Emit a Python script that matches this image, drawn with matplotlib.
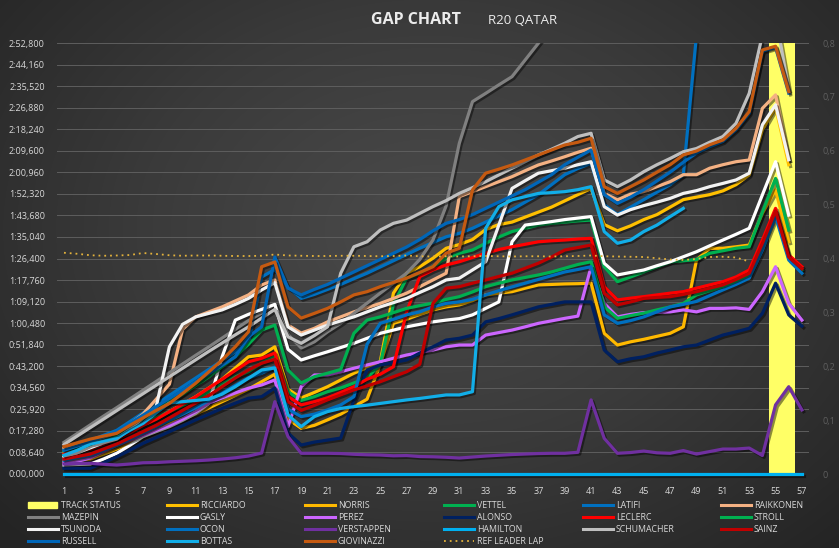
import numpy as np
import matplotlib
matplotlib.use('Agg')
import matplotlib.pyplot as plt
import matplotlib.patheffects as pe
from matplotlib.colors import LinearSegmentedColormap
from matplotlib.ticker import FuncFormatter, FixedLocator
from matplotlib.lines import Line2D
from matplotlib.patches import Rectangle

plt.rcParams['font.family'] = ['Open Sans', 'DejaVu Sans']

nan = np.nan
laps = list(range(1, 58))
track_status = [0] * 54 + [0.8, 0.8, 0]

# gap to leader in seconds, one value per lap
ricciardo = [8.5, 9.5, 10.5, 12.5, 14.5, 17.0, 19.5, 22.0, 25.0, 28.0, 31.0, 34.5, 38.0, 42.5, 47.0, 47.7, 51.0, 34.0, 30.5, 32.7,
             35.0, 37.7, 40.4, 42.7, 45.0, 72.5, 80.5, 83.1, 86.5, 90.5, 92.0, 94.0, 98.0, 100.0, 101.0, 103.0, 105.0, 107.0, 109.5, 112.0,
             114.5, 100.0, 97.5, 99.5, 102.0, 104.0, 107.0, 110.0, 111.0, 112.0, 113.5, 116.0, 119.9, 138.0, 147.0, 124.0, nan]
norris = [5.0, 5.5, 6.0, 8.0, 10.0, 12.5, 15.0, 17.5, 20.0, 22.0, 24.0, 26.5, 29.0, 31.5, 34.0, 37.0, 40.0, 22.0, 18.3, 19.5,
          21.7, 24.0, 27.0, 30.0, 44.0, 60.4, 62.0, 64.0, 65.8, 67.0, 67.8, 69.5, 71.8, 72.5, 73.1, 74.5, 75.8, 76.0, 76.2, 76.3,
          76.5, 56.4, 51.7, 53.0, 54.0, 55.2, 56.4, 59.0, 85.8, 90.5, 90.5, 91.1, 91.8, 104.5, 113.9, 93.1, nan]
vettel = [9.0, 10.5, 12.0, 13.5, 15.0, 17.5, 20.0, 22.5, 25.0, 27.5, 30.0, 33.0, 36.0, 39.0, 41.0, 44.5, 47.0, 33.0, 29.5, 31.0,
          33.0, 34.5, 36.5, 38.5, 44.0, 68.0, 78.5, 80.5, 83.1, 86.5, 88.5, 89.8, 92.5, 95.0, 97.2, 98.5, 99.8, 100.5, 101.0, 101.5,
          101.8, 83.1, 77.1, 79.0, 81.0, 83.0, 85.0, 85.5, 86.0, 88.5, 89.5, 90.5, 91.1, 105.0, 118.5, 97.8, nan]
latifi = [10.0, 11.8, 13.5, 15.5, 17.5, 21.0, 24.5, 28.0, 31.5, 35.0, 38.5, 42.0, 45.5, 49.0, 52.5, 79.0, 82.0, 75.0, 70.4, 72.0,
          74.0, 76.0, 78.3, 80.5, 83.0, 85.5, 88.0, 90.5, 92.8, 95.1, 96.5, 98.5, 101.0, 103.5, 106.0, 109.0, 112.0, 116.0, 120.0, 122.5,
          124.6, 108.0, 104.0, 107.0, 110.0, 113.0, 116.0, 119.9, 176.0, nan, nan, nan, nan, nan, nan, nan, nan]
raikkonen = [10.3, 11.5, 13.0, 14.7, 16.3, 20.0, 24.0, 30.0, 36.0, 58.0, 63.0, 65.0, 67.0, 69.4, 71.8, 75.8, 77.8, 59.7, 56.5, 58.4,
             61.0, 63.0, 65.0, 66.7, 68.4, 70.4, 72.5, 75.1, 77.8, 80.5, 111.2, 113.2, 115.2, 117.2, 119.2, 121.6, 123.9, 125.5, 127.2, 129.0,
             130.6, 112.5, 109.9, 112.2, 113.2, 115.2, 117.2, 120.0, 120.0, 122.6, 124.0, 125.2, 125.9, 146.6, 152.0, 126.0, nan]
mazepin = [12.7, 16.2, 19.7, 23.2, 26.6, 30.1, 33.6, 37.1, 40.6, 44.1, 47.6, 51.0, 54.5, 58.0, 61.5, 64.5, 68.0, 56.0, 50.5, 53.0,
           57.0, 60.4, 64.4, 68.5, 72.5, 76.5, 80.5, 86.0, 93.8, 107.5, 132.6, 149.3, 152.6, 156.0, 159.3, 166.0, 172.7, 179.5, 186.0, 192.0,
           198.0, 182.0, 180.0, 184.0, 188.0, 192.0, 196.0, 200.0, 203.0, 207.0, 211.0, 215.0, 225.0, 250.0, 258.0, 235.0, nan]
gasly = [3.6, 3.8, 4.0, 6.0, 8.3, 11.5, 15.0, 17.0, 19.0, 21.5, 24.3, 28.3, 47.0, 61.7, 64.0, 66.0, 68.0, 50.0, 45.7, 47.4,
         49.0, 50.7, 52.4, 54.4, 56.4, 57.7, 59.0, 60.0, 61.0, 61.7, 62.3, 63.8, 66.4, 69.0, 93.1, 99.8, 100.5, 101.2, 102.0, 102.6,
         103.2, 84.5, 79.8, 80.8, 81.8, 83.5, 85.1, 87.1, 89.1, 91.5, 93.8, 96.1, 98.5, 111.9, 125.2, 103.8, nan]
perez = [4.5, 5.0, 6.5, 9.0, 11.5, 13.5, 15.5, 17.5, 19.5, 22.0, 25.0, 28.5, 30.5, 32.5, 34.4, 35.7, 37.7, 19.0, 35.0, 39.7,
         39.7, 41.0, 42.4, 43.7, 45.0, 46.4, 47.7, 48.7, 49.7, 51.0, 51.7, 51.7, 55.7, 56.7, 57.7, 59.0, 60.4, 61.4, 62.4, 63.3,
         83.1, 68.4, 63.0, 64.0, 64.7, 64.8, 65.0, 65.8, 65.0, 66.4, 66.4, 66.6, 66.0, 73.1, 83.1, 68.4, 61.7]
alonso = [2.3, 2.3, 2.3, 4.5, 6.9, 9.5, 12.3, 14.6, 17.0, 19.3, 21.7, 24.0, 26.3, 28.4, 30.4, 31.0, 34.5, 16.4, 11.6, 12.8,
          13.6, 14.4, 29.7, 41.7, 43.7, 44.7, 45.7, 48.5, 51.0, 53.7, 54.4, 55.7, 61.0, 62.3, 63.8, 65.4, 67.0, 68.0, 69.0, 69.0,
          69.0, 49.7, 45.0, 46.2, 47.0, 48.5, 49.7, 51.0, 51.7, 53.7, 55.7, 57.0, 58.4, 64.4, 76.5, 63.8, 59.3]
leclerc = [8.0, 9.0, 10.0, 12.0, 14.0, 16.5, 19.5, 22.0, 25.0, 28.0, 31.0, 34.5, 38.0, 41.5, 45.0, 46.4, 48.5, 31.0, 27.7, 29.0,
           30.5, 32.7, 35.0, 38.0, 40.0, 43.0, 65.0, 79.1, 81.8, 83.8, 85.1, 86.8, 88.5, 90.0, 91.1, 92.1, 93.1, 93.5, 93.8, 94.2,
           94.5, 75.1, 69.8, 70.5, 71.1, 71.8, 72.5, 73.1, 74.5, 75.8, 77.1, 79.0, 81.8, 93.8, 106.5, 87.8, 83.1]
stroll = [7.2, 9.0, 11.0, 13.0, 15.0, 18.5, 22.0, 25.5, 29.0, 32.0, 35.5, 39.0, 43.0, 47.0, 52.0, 57.7, 59.7, 41.7, 36.5, 39.0,
          40.4, 41.9, 56.4, 61.7, 63.0, 64.7, 66.4, 67.5, 68.5, 70.0, 71.1, 73.0, 75.1, 76.5, 77.8, 78.8, 79.8, 81.0, 82.5, 84.0,
          85.1, 67.0, 62.4, 63.5, 64.5, 65.8, 67.0, 68.4, 71.8, 73.5, 75.1, 77.0, 79.8, 91.8, 104.5, 86.5, 81.7]
tsunoda = [6.8, 8.5, 10.5, 12.5, 14.0, 18.0, 22.5, 27.0, 51.0, 60.0, 63.0, 64.4, 65.8, 68.0, 70.4, 73.8, 76.7, 59.0, 55.7, 57.7,
           59.7, 61.4, 63.0, 65.0, 67.0, 68.7, 70.4, 72.8, 75.1, 77.8, 78.5, 81.8, 85.1, 99.8, 114.5, 117.6, 120.6, 121.6, 122.6, 124.0,
           125.2, 107.2, 103.8, 106.0, 107.6, 109.0, 110.5, 112.5, 113.6, 115.2, 116.5, 117.9, 120.6, 140.0, 148.0, 126.0, nan]
ocon = [5.5, 6.5, 7.5, 9.5, 11.5, 14.0, 16.5, 19.0, 21.5, 24.0, 26.5, 29.5, 32.5, 35.5, 38.5, 40.4, 42.9, 26.0, 23.0, 24.0,
        25.7, 27.7, 31.0, 52.0, 60.4, 62.0, 63.8, 65.0, 67.0, 68.4, 69.0, 70.0, 71.8, 73.5, 75.0, 76.5, 78.0, 79.5, 81.0, 82.0,
        83.1, 63.8, 60.4, 61.5, 63.0, 65.0, 67.0, 68.0, 69.2, 71.5, 73.8, 76.0, 78.5, 89.8, 103.2, 85.8, 80.5]
verstappen = [4.0, 4.2, 4.3, 3.9, 3.6, 4.0, 4.5, 4.6, 4.9, 5.1, 5.3, 5.6, 6.0, 6.5, 7.2, 8.4, 29.0, 15.0, 8.3, 8.3,
              8.3, 8.2, 7.9, 7.7, 7.6, 7.3, 7.4, 7.0, 6.9, 6.7, 6.4, 6.8, 7.2, 7.5, 7.8, 8.0, 8.2, 8.3, 8.3, 8.7,
              29.7, 14.3, 8.3, 8.6, 9.2, 8.5, 8.3, 9.4, 8.0, 9.0, 10.0, 10.0, 10.4, 7.4, 27.7, 35.0, 25.7]
hamilton = [0.0] * 57
schumacher = [11.8, 15.2, 18.6, 22.0, 25.4, 28.8, 32.2, 35.6, 39.0, 42.4, 45.8, 49.2, 52.5, 55.8, 59.0, 62.5, 66.0, 55.0, 52.4, 55.5,
              59.0, 80.5, 91.1, 93.1, 97.8, 100.5, 101.8, 104.5, 107.2, 109.6, 112.5, 114.8, 117.2, 119.9, 122.6, 125.2, 127.9, 130.2, 132.6, 135.3,
              136.6, 117.9, 115.2, 117.9, 121.2, 124.0, 126.5, 129.2, 130.5, 133.0, 135.3, 140.6, 152.6, 176.0, 184.0, 154.0, nan]
sainz = [6.0, 7.0, 8.0, 10.0, 12.0, 14.5, 17.0, 19.5, 22.5, 25.5, 28.5, 31.5, 35.0, 38.5, 41.7, 44.4, 46.0, 29.0, 25.5, 27.5,
         29.7, 31.7, 33.7, 35.3, 37.0, 39.0, 41.0, 44.0, 68.4, 74.5, 75.1, 76.5, 77.8, 79.2, 80.5, 82.5, 84.5, 87.0, 89.8, 90.8,
         91.8, 72.5, 67.8, 69.0, 70.4, 70.8, 71.1, 72.0, 73.1, 74.5, 75.8, 78.0, 80.5, 92.5, 105.5, 87.0, 82.3]
russell = [9.5, 11.2, 13.0, 15.0, 17.0, 20.3, 23.6, 27.0, 30.3, 33.6, 37.0, 40.3, 43.6, 47.0, 55.0, 59.0, 87.0, 74.5, 71.8, 74.0,
           76.0, 78.5, 81.0, 83.5, 86.0, 88.5, 91.0, 94.0, 97.5, 100.5, 102.0, 104.0, 106.5, 109.0, 111.5, 114.0, 117.0, 120.0, 124.0, 127.0,
           129.9, 112.0, 108.5, 111.0, 114.0, 117.5, 121.0, 125.0, 128.7, 131.2, 133.3, 138.0, 144.6, 169.5, 171.0, 152.7, nan]
bottas = [7.5, 9.5, 12.0, 13.2, 14.4, 17.5, 20.3, 24.5, 28.5, 29.0, 29.5, 30.0, 32.0, 35.0, 38.4, 41.7, 42.5, 23.7, 19.0, 23.0,
          25.0, 26.3, 27.0, 27.6, 28.3, 29.0, 29.7, 30.3, 31.0, 31.7, 31.7, 33.0, 98.5, 107.2, 109.9, 111.2, 112.5, 112.8, 113.2, 114.0,
          115.2, 97.2, 92.5, 93.8, 97.2, 99.8, 103.2, 106.5, nan, nan, nan, nan, nan, nan, nan, nan, nan]
giovinazzi = [11.0, 12.5, 14.0, 15.2, 16.3, 19.5, 22.5, 25.5, 28.3, 32.3, 36.4, 41.0, 45.7, 51.0, 57.0, 83.1, 85.0, 67.0, 62.5, 64.4,
              66.4, 69.0, 71.8, 73.1, 75.1, 76.8, 78.5, 80.8, 83.1, 88.5, 90.5, 113.9, 120.6, 122.2, 123.9, 125.9, 127.9, 129.9, 131.9, 133.0,
              134.6, 115.2, 112.5, 115.2, 117.9, 121.0, 124.0, 127.9, 129.5, 132.0, 133.9, 138.6, 145.3, 170.0, 171.5, 153.3, nan]
ref_leader_lap = [88.7, 88.3, 87.7, 87.5, 87.6, 87.8, 88.6, 88.2, 87.7, 87.5, 87.6, 87.6, 87.5, 87.4, 87.4, 87.5, 88.0, 87.6, 87.5, 87.4,
                  87.4, 87.5, 87.5, 87.4, 87.3, 87.4, 87.6, 87.3, 87.2, 87.3, 87.2, 87.3, 87.4, 87.3, 87.2, 87.3, 87.3, 87.2, 87.3, 87.4,
                  87.6, 87.3, 87.2, 87.1, 87.0, 86.5, 86.0, 85.8, 86.2, 87.0, 87.1, 86.8, 85.2, nan, nan, nan, nan]

series = [
    ('RICCIARDO', ricciardo, '#FFC000'),
    ('NORRIS', norris, '#FFB900'),
    ('VETTEL', vettel, '#00B050'),
    ('LATIFI', latifi, '#0070C0'),
    ('RAIKKONEN', raikkonen, '#F4B183'),
    ('MAZEPIN', mazepin, '#808080'),
    ('GASLY', gasly, '#FFFFFF'),
    ('PEREZ', perez, '#CC66FF'),
    ('ALONSO', alonso, '#002060'),
    ('LECLERC', leclerc, '#FF0000'),
    ('STROLL', stroll, '#00B050'),
    ('TSUNODA', tsunoda, '#F2F2F2'),
    ('OCON', ocon, '#0070C0'),
    ('VERSTAPPEN', verstappen, '#7030A0'),
    ('HAMILTON', hamilton, '#00B0F0'),
    ('SCHUMACHER', schumacher, '#BFBFBF'),
    ('SAINZ', sainz, '#C00000'),
    ('RUSSELL', russell, '#0066B8'),
    ('BOTTAS', bottas, '#12AEE8'),
    ('GIOVINAZZI', giovinazzi, '#C55A11'),
]

YMAX = 172.8
W, H = 839, 548
fig = plt.figure(figsize=(W / 100, H / 100), dpi=100)

# dark radial background
bg = fig.add_axes([0, 0, 1, 1], zorder=-5)
yy, xx = np.mgrid[0:H, 0:W]
d = np.sqrt(((xx - 430) / 560.0) ** 2 + ((yy - 230) / 420.0) ** 2)
bg.imshow(d, cmap=LinearSegmentedColormap.from_list('bg', ['#4b4b4b', '#3a3a3a', '#242424']),
          vmin=0, vmax=1.05, aspect='auto', extent=[0, 1, 0, 1])
bg.set_axis_off()

ax = fig.add_axes([57.4 / W, 1 - 474 / H, (808.5 - 57.4) / W, (474 - 43) / H])
ax.patch.set_visible(False)
ax.set_xlim(0.5, 57.5)
ax.set_ylim(0, YMAX)

ticks = [i * 8.64 for i in range(21)]
ax.yaxis.set_major_locator(FixedLocator(ticks))
ax.grid(axis='y', color='#5e5e5e', lw=0.7, zorder=0)
ax.set_axisbelow(True)


def fmt_gap(v, pos=None):
    ms = int(round(v * 1000))
    return '%d:%02d,%03d' % (ms // 60000, (ms % 60000) // 1000, ms % 1000)


ax.yaxis.set_major_formatter(FuncFormatter(fmt_gap))
ax.set_xticks(laps[::2])
ax.tick_params(axis='both', length=0, labelsize=6.5, colors='#d9d9d9')
ax.tick_params(axis='y', pad=9)
ax.tick_params(axis='x', pad=9)
for s in ax.spines.values():
    s.set_visible(False)

# track status on the secondary scale (0..0.8 spans the full height)
ax2 = ax.twinx()
ax2.set_ylim(0, 0.8)
ax2.set_yticks([i / 10 for i in range(9)])
ax2.yaxis.set_major_formatter(FuncFormatter(lambda v, p: '0' if v == 0 else ('%.1f' % v).replace('.', ',')))
ax2.tick_params(axis='y', length=0, labelsize=6.5, colors='#5f5f5f', pad=10)
for s in ax2.spines.values():
    s.set_visible(False)
scale = YMAX / 0.8
ax.bar(laps, [t * scale for t in track_status], width=1.0, color='#FFFF66', zorder=1)

shadow = [pe.SimpleLineShadow(offset=(1.3, -1.3), shadow_color='black', alpha=0.45), pe.Normal()]
for i, (name, vals, col) in enumerate(series):
    ax.plot(laps, vals, color=col, lw=2.3, zorder=3 + i * 0.01, solid_joinstyle='round',
            path_effects=shadow, clip_on=(name != 'HAMILTON'))
ax.plot(laps, ref_leader_lap, color='#E3B23C', lw=1.3, ls=(0, (1, 2.2)), zorder=4)

fig.text(0.496, 0.963, 'GAP CHART', ha='center', va='center', fontsize=11.5, fontweight='bold', color='#ececec')
fig.text(0.5816, 0.963, 'R20 QATAR', ha='left', va='center', fontsize=9.5, color='#ececec')

# legend, laid out in six columns like the source
legend_items = [('TRACK STATUS', '#FFFF66', 'box')] + [(n, c, '-') for n, v, c in series] + \
               [('REF LEADER LAP', '#E3B23C', ':')]
col_x = [28, 167, 305, 444, 583, 721]
row_y = [505, 517, 529, 541]
for k, (name, col, kind) in enumerate(legend_items):
    r, c = divmod(k, 6)
    x0, y0 = col_x[c], row_y[r]
    if kind == 'box':
        fig.patches.append(Rectangle((x0 / W, 1 - (y0 + 3) / H), 29 / W, 6 / H, color=col,
                                     transform=fig.transFigure))
    elif kind == ':':
        fig.add_artist(Line2D([x0 / W, (x0 + 30) / W], [1 - y0 / H] * 2, color=col, lw=1.3,
                              ls=(0, (1, 2.2))))
    else:
        fig.add_artist(Line2D([x0 / W, (x0 + 30) / W], [1 - y0 / H] * 2, color=col, lw=2.2))
    fig.text((x0 + 33) / W, 1 - y0 / H, name, ha='left', va='center', fontsize=6.3, color='#d9d9d9')

fig.savefig('out.png', dpi=100)
